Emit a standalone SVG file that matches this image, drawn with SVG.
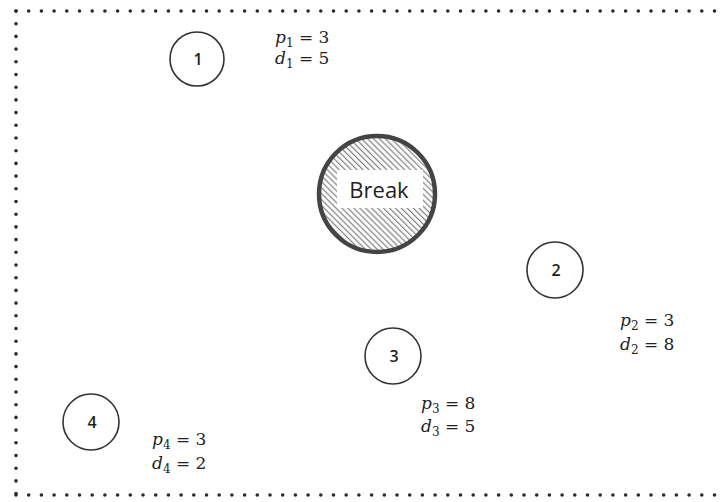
<svg xmlns="http://www.w3.org/2000/svg" width="727" height="502" viewBox="0 0 727 502">
<defs>
<pattern id="hatch" patternUnits="userSpaceOnUse" width="8" height="4.2" patternTransform="rotate(45)">
<line x1="0" y1="2" x2="8" y2="2" stroke="#808080" stroke-width="1.2"/>
</pattern>
</defs>
<style>
.dots{fill:none;stroke:#2a2a2a;stroke-width:3.6;stroke-linecap:round;stroke-dasharray:0 12.7}
.node{fill:#fff;stroke:#333;stroke-width:1.6}
.num{font-family:"Open Sans","DejaVu Sans",sans-serif;font-size:16px;font-weight:600;fill:#222;text-anchor:middle}
.lbl{font-family:"DejaVu Serif","Liberation Serif",serif;font-size:17px;fill:#222}
.it{font-style:italic}
.sub{font-size:12px}
.brk{font-family:"Open Sans","DejaVu Sans",sans-serif;font-size:22px;font-weight:500;fill:#222;text-anchor:middle}
</style>
<rect width="727" height="502" fill="#fff"/>
<g id="border">
<path class="dots" d="M16 11 H727"/>
<path class="dots" d="M16 11 V495"/>
<path class="dots" d="M16 495 H727"/>
</g>
<g id="break">
<circle cx="377" cy="194" r="58" fill="url(#hatch)" stroke="#444" stroke-width="4.5"/>
<rect x="337" y="170" width="86" height="38" fill="#fff"/>
<text class="brk" x="379" y="198">Break</text>
</g>
<g id="node1">
<circle class="node" cx="197" cy="59" r="27"/>
<text class="num" x="198" y="65">1</text>
<text class="lbl" x="275" y="43" font-family="DejaVu Serif, serif"><tspan class="it">p</tspan><tspan class="sub" dy="4">1</tspan><tspan dy="-4"> = 3</tspan></text>
<text class="lbl" x="275" y="64" font-family="DejaVu Serif, serif"><tspan class="it">d</tspan><tspan class="sub" dy="4">1</tspan><tspan dy="-4"> = 5</tspan></text>
</g>
<g id="node2">
<circle class="node" cx="555" cy="270" r="28"/>
<text class="num" x="556" y="276">2</text>
<text class="lbl" x="620" y="326" font-family="DejaVu Serif, serif"><tspan class="it">p</tspan><tspan class="sub" dy="4">2</tspan><tspan dy="-4"> = 3</tspan></text>
<text class="lbl" x="620" y="350" font-family="DejaVu Serif, serif"><tspan class="it">d</tspan><tspan class="sub" dy="4">2</tspan><tspan dy="-4"> = 8</tspan></text>
</g>
<g id="node3">
<circle class="node" cx="393" cy="356" r="28"/>
<text class="num" x="394" y="362">3</text>
<text class="lbl" x="421" y="409" font-family="DejaVu Serif, serif"><tspan class="it">p</tspan><tspan class="sub" dy="4">3</tspan><tspan dy="-4"> = 8</tspan></text>
<text class="lbl" x="421" y="432" font-family="DejaVu Serif, serif"><tspan class="it">d</tspan><tspan class="sub" dy="4">3</tspan><tspan dy="-4"> = 5</tspan></text>
</g>
<g id="node4">
<circle class="node" cx="91" cy="422" r="28"/>
<text class="num" x="92" y="428">4</text>
<text class="lbl" x="152" y="445" font-family="DejaVu Serif, serif"><tspan class="it">p</tspan><tspan class="sub" dy="4">4</tspan><tspan dy="-4"> = 3</tspan></text>
<text class="lbl" x="152" y="469" font-family="DejaVu Serif, serif"><tspan class="it">d</tspan><tspan class="sub" dy="4">4</tspan><tspan dy="-4"> = 2</tspan></text>
</g>
<g id="connectors"></g>
</svg>
